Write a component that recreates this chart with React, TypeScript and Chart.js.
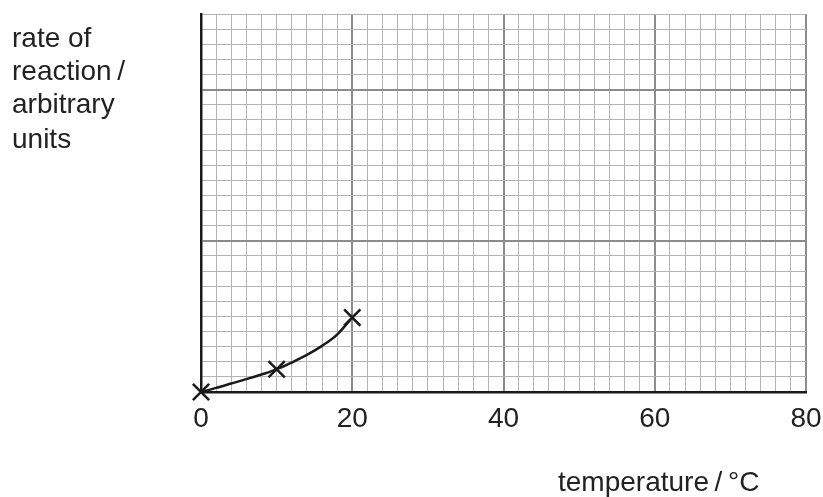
import React, { useEffect, useRef } from "react";
import { Chart, registerables } from "chart.js";

Chart.register(...registerables);

// measured points (crosses)
const temperatures = [0, 10, 20];
const rates = [0, 1.5, 4.92];
// hand-drawn curve of best fit
const curveTemperatures = [0, 2, 4, 6, 8, 10, 12, 14, 16, 18, 19.7];
const curveRates = [0, 0.27, 0.56, 0.85, 1.16, 1.5, 1.95, 2.45, 3.05, 3.8, 4.75];
const xTickLabels = ["0", "20", "40", "60", "80"];
const yLabelLines = ["rate of", "reaction\u2009/", "arbitrary", "units"];
const xTitle = "temperature\u2009/\u2009°C";

const FONT = "'Liberation Sans', Arial, Helvetica, sans-serif";
const TEXT = "#222";

const textPlugin = {
  id: "axisTexts",
  afterDraw(chart: any) {
    const ctx = chart.ctx;
    ctx.save();
    ctx.fillStyle = TEXT;
    ctx.font = `28px ${FONT}`;
    ctx.textAlign = "left";
    ctx.textBaseline = "alphabetic";
    const base = [47, 80, 113, 148];
    yLabelLines.forEach((line, i) => ctx.fillText(line, 12, base[i]));
    ctx.fillText(xTitle, 558, 491);
    ctx.restore();
  },
};

export default function App() {
  const ref = useRef<HTMLCanvasElement | null>(null);
  useEffect(() => {
    if (!ref.current) return;
    const points = temperatures.map((t, i) => ({ x: t, y: rates[i] }));
    const curve = curveTemperatures.map((t, i) => ({ x: t, y: curveRates[i] }));
    const chart = new Chart(ref.current, {
      type: "scatter",
      data: {
        datasets: [
          {
            data: curve,
            showLine: true,
            cubicInterpolationMode: "monotone",
            borderColor: "#1a1a1a",
            borderWidth: 2.5,
            pointRadius: 0,
            clip: false as any,
          } as any,
          {
            data: points,
            showLine: false,
            pointStyle: "crossRot",
            pointRadius: 11.5,
            borderColor: "#1a1a1a",
            pointBorderWidth: 2.5,
            clip: false as any,
          } as any,
        ],
      },
      options: {
        responsive: false,
        animation: false,
        devicePixelRatio: 1,
        layout: { padding: { left: 201, right: 17, top: 14, bottom: 0 } },
        plugins: {
          legend: { display: false },
          tooltip: { enabled: false },
          title: { display: false },
        },
        scales: {
          x: {
            type: "linear",
            min: 0,
            max: 80,
            afterFit: (s: any) => {
              s.height = 105;
              s.paddingLeft = 0;
              s.paddingRight = 0;
            },
            ticks: {
              stepSize: 2,
              autoSkip: false,
              maxRotation: 0,
              minRotation: 0,
              padding: 10,
              color: TEXT,
              font: { family: FONT, size: 28 },
              callback: (v: any) => {
                const s = String(v);
                return xTickLabels.includes(s) ? s : "";
              },
            },
            grid: {
              drawTicks: false,
              color: (c: any) =>
                c.tick && c.tick.value % 20 === 0 ? "#8c8c8c" : "#b4b4b4",
              lineWidth: (c: any) =>
                c.tick && c.tick.value % 20 === 0 ? 2 : 1,
            },
            border: { display: true, color: "#1a1a1a", width: 2.5 },
          },
          y: {
            type: "linear",
            min: 0,
            max: 25,
            afterFit: (s: any) => {
              s.width = 0;
            },
            ticks: { stepSize: 1, display: false, autoSkip: false },
            grid: {
              drawTicks: false,
              color: (c: any) =>
                c.tick && c.tick.value % 10 === 0 ? "#8c8c8c" : "#b4b4b4",
              lineWidth: (c: any) =>
                c.tick && c.tick.value % 10 === 0 ? 2 : 1,
            },
            border: { display: true, color: "#1a1a1a", width: 2.5 },
          },
        },
      },
      plugins: [textPlugin],
    });
    return () => chart.destroy();
  }, []);
  return (
    <div style={{ position: "fixed", left: 0, top: 0, width: 823, height: 497, background: "#fff" }}>
      <canvas ref={ref} width={823} height={497} />
    </div>
  );
}
